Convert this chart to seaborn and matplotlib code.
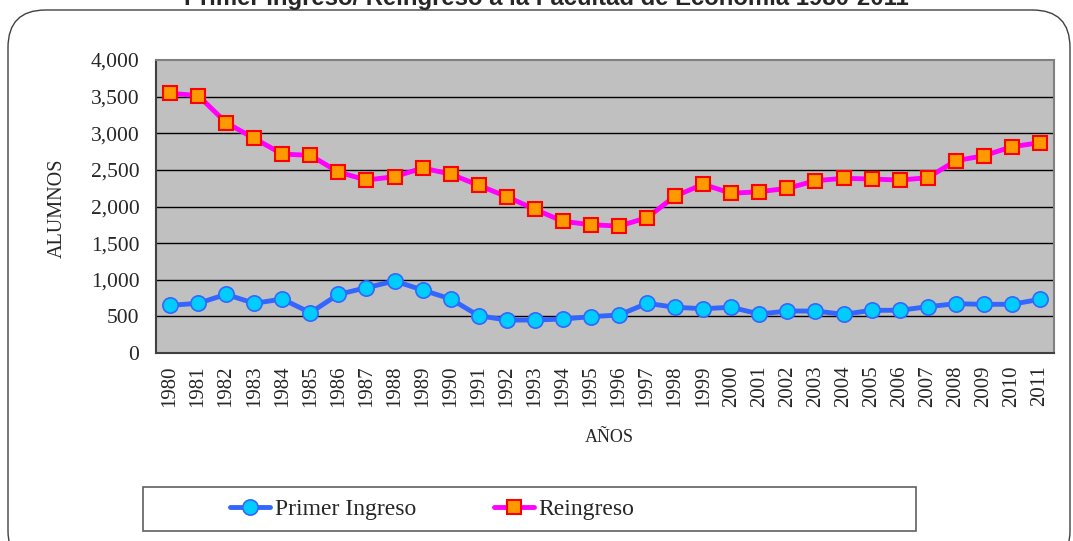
import matplotlib
matplotlib.use("Agg")
import matplotlib.pyplot as plt
import seaborn as sns
import pandas as pd
from matplotlib.patches import FancyBboxPatch, Rectangle
from matplotlib.ticker import FuncFormatter, MultipleLocator

years = list(range(1980, 2012))
primer_ingreso = [651, 678, 801, 678, 737, 550, 801, 891, 983, 860, 737, 509, 450, 450, 464, 496,
                  519, 678, 624, 605, 624, 532, 573, 573, 528, 583, 583, 632, 673, 664, 665, 733]
reingreso = [3545, 3515, 3144, 2930, 2716, 2698, 2470, 2361, 2407, 2525, 2443, 2289, 2134, 1961, 1798, 1751,
             1733, 1847, 2143, 2303, 2180, 2202, 2248, 2352, 2385, 2375, 2361, 2393, 2625, 2693, 2816, 2871]

df = pd.DataFrame({"year": years, "primer": primer_ingreso, "reingreso": reingreso})

blue = "#3366FF"
cyan = "#00CCFF"
magenta = "#FF00FF"
orange = "#FF9900"
red = "#FF0000"

sns.set_style("white")
plt.rcParams["font.family"] = ["Liberation Serif", "DejaVu Serif"]

fig = plt.figure(figsize=(10.73, 5.41), dpi=100)
ax = fig.add_axes([156 / 1073, 1 - 353 / 541, 898 / 1073, 293 / 541])
ax.set_facecolor("#C0C0C0")

# outer rounded frame
frame = FancyBboxPatch((8 / 1073, -0.05), 1062 / 1073, 1.05 - 10 / 541,
                       boxstyle="round,pad=0,rounding_size=0.035",
                       transform=fig.transFigure, facecolor="none",
                       edgecolor="#404040", linewidth=1.0, mutation_aspect=1073 / 541)
fig.patches.append(frame)

sns.lineplot(data=df, x="year", y="primer", ax=ax, color=blue, linewidth=3.5,
             marker="o", markersize=11, markerfacecolor=cyan, markeredgecolor=blue,
             markeredgewidth=1.2, label="Primer Ingreso", zorder=4)
sns.lineplot(data=df, x="year", y="reingreso", ax=ax, color=magenta, linewidth=3.5,
             marker="s", markersize=10, markerfacecolor=orange, markeredgecolor=red,
             markeredgewidth=1.5, label="Reingreso", zorder=5)

ax.set_xlim(1979.5, 2011.5)
ax.set_ylim(0, 4000)
ax.set_xticks(years)
ax.set_xticklabels([str(y) for y in years], rotation=90)
ax.set_xticks([y + 0.5 for y in [1979] + years], minor=True)
ax.tick_params(axis="x", which="major", length=0, pad=9, labelsize=15)
ax.tick_params(axis="x", which="minor", length=6, width=1.2, color="#404040", direction="out")
ax.yaxis.set_major_locator(MultipleLocator(500))
ax.yaxis.set_major_formatter(FuncFormatter(lambda v, p: f"{int(v):,}"))
ax.tick_params(axis="y", length=6, width=1.2, color="#404040", direction="out", labelsize=15.5, pad=6)

for v in range(500, 4000, 500):
    ax.axhline(v, color="black", linewidth=1.0, zorder=1)

for side in ["left", "bottom"]:
    ax.spines[side].set_color("#404040")
    ax.spines[side].set_linewidth(1.5)
for side in ["top", "right"]:
    ax.spines[side].set_color("#808080")
    ax.spines[side].set_linewidth(1.5)

ax.set_ylabel("")
ax.set_xlabel("")
fig.text(57 / 1073, 1 - 208 / 541, "ALUMNOS", ha="center", va="center", rotation=90, fontsize=14.5)
fig.text(609 / 1073, 1 - 438 / 541, "AÑOS", ha="center", va="center", fontsize=13)

fig.text(0.509, 1 - 5 / 541, "Primer Ingreso/ Reingreso a la Facultad de Economía 1980-2011",
         ha="center", va="baseline", fontsize=17.2, fontweight="bold",
         family=["Liberation Sans", "DejaVu Sans"])

# legend box
box = Rectangle((143 / 1073, 1 - 531 / 541), 773 / 1073, 44 / 541, transform=fig.transFigure,
                facecolor="white", edgecolor="#606060", linewidth=1.2)
fig.patches.append(box)
handles, labels = ax.get_legend_handles_labels()
ax.get_legend().remove()
fig.legend(handles, labels, loc="center left", bbox_to_anchor=(218 / 1073, 1 - 509 / 541),
           ncol=2, frameon=False, fontsize=17, handlelength=1.7, handletextpad=0.2,
           columnspacing=3.3, borderpad=0)

fig.savefig("out.png", dpi=100)
